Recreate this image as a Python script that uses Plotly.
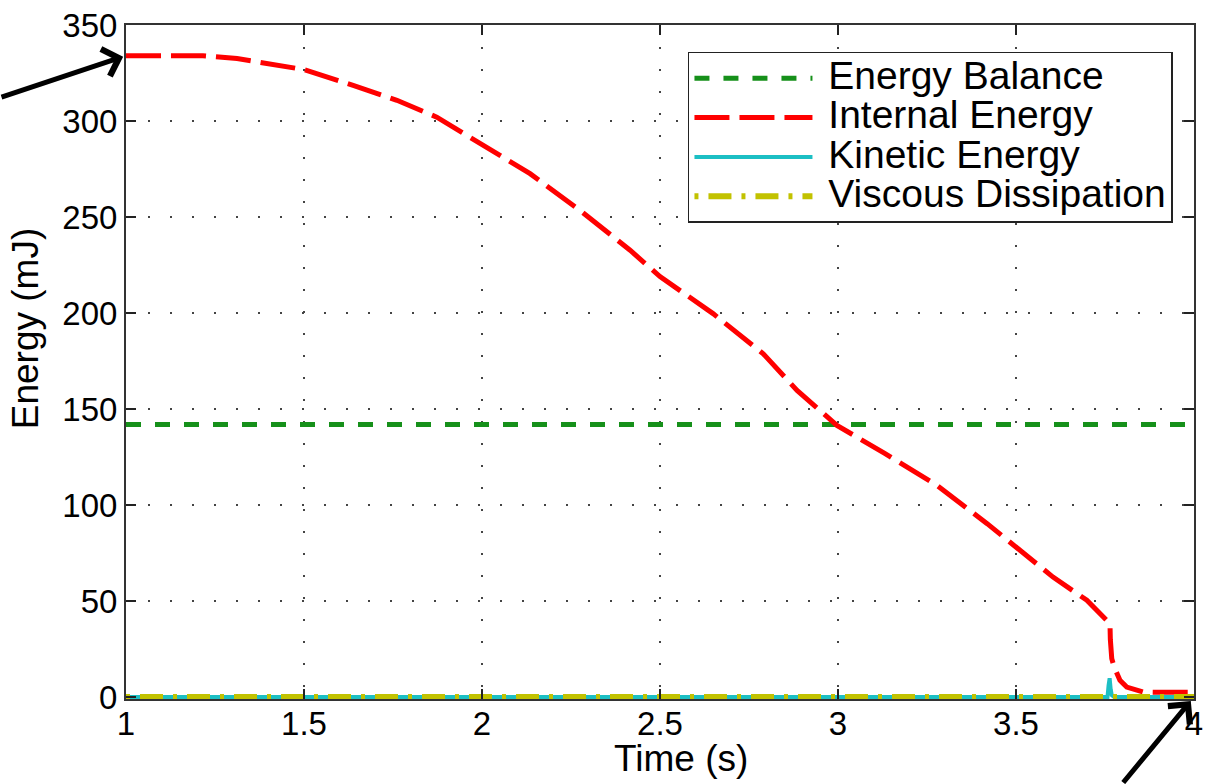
import plotly.graph_objects as go

# ---- data -------------------------------------------------------------
series_names = ["Energy Balance", "Internal Energy", "Kinetic Energy", "Viscous Dissipation"]

balance_t = [1.0, 4.0]
balance_e = [142.0, 142.0]

internal_t = [1.0, 1.1, 1.216, 1.312, 1.405, 1.5, 1.638, 1.761, 1.873, 2.0,
              2.135, 2.275, 2.416, 2.5, 2.649, 2.79, 2.885, 2.949, 2.997, 3.13,
              3.278, 3.419, 3.511, 3.604, 3.699, 3.764, 3.765, 3.769, 3.776, 3.783,
              3.792, 3.811, 3.839, 3.858, 3.9, 4.0]
internal_e = [334.0, 334.0, 334.0, 332.5, 330.0, 326.8, 318.6, 310.8, 302.0, 287.5,
              272.6, 253.5, 232.7, 219.0, 199.7, 178.8, 159.7, 149.3, 141.5, 127.0,
              110.3, 90.3, 76.4, 62.5, 50.4, 38.2, 30.0, 20.0, 15.5, 12.0,
              8.7, 5.2, 3.3, 2.6, 2.5, 2.5]

kinetic_t = [1.0, 3.757, 3.760, 3.763, 3.766, 3.769, 3.776, 4.0]
kinetic_e = [0.0, 0.0, 6.0, 9.8, 4.0, 1.0, 0.0, 0.0]

viscous_t = [1.0, 4.0]
viscous_e = [0.0, 0.0]

x_ticks = [1, 1.5, 2, 2.5, 3, 3.5, 4]
x_tick_text = ["1", "1.5", "2", "2.5", "3", "3.5", "4"]
y_ticks = [0, 50, 100, 150, 200, 250, 300, 350]
y_tick_text = ["0", "50", "100", "150", "200", "250", "300", "350"]

# ---- styling ----------------------------------------------------------
FONT = "Liberation Sans, Arial, Helvetica, sans-serif"
TICK_SIZE = 33
TITLE_SIZE = 37
LEGEND_TEXT = 39
GAP = "\u00a0"  # space between legend sample and label


def legend_label(name):
    return f'<span style="font-size:{LEGEND_TEXT}px">{GAP}{name}</span>'


fig = go.Figure()

fig.add_trace(go.Scatter(
    x=balance_t, y=balance_e, mode="lines", name=legend_label(series_names[0]),
    line=dict(color="#16901a", width=5, dash="15px,14px"),
))
fig.add_trace(go.Scatter(
    x=internal_t, y=internal_e, mode="lines", name=legend_label(series_names[1]),
    line=dict(color="#ff0000", width=5, dash="35px,10px"),
))
fig.add_trace(go.Scatter(
    x=kinetic_t, y=kinetic_e, mode="lines", name=legend_label(series_names[2]),
    line=dict(color="#1cbfc4", width=4),
))
fig.add_trace(go.Scatter(
    x=viscous_t, y=viscous_e, mode="lines", name=legend_label(series_names[3]),
    line=dict(color="#c2c200", width=6, dash="4px,10px,23px,10px"),
))

axis_common = dict(
    showline=True, linecolor="#333333", linewidth=2, mirror="ticks",
    ticks="inside", ticklen=10, tickwidth=2, tickcolor="#222222",
    showgrid=True, gridcolor="#444444", gridwidth=2, griddash="2px,20px",
    zeroline=False, automargin=False,
    tickfont=dict(family=FONT, size=TICK_SIZE, color="black"),
)

fig.update_xaxes(range=[1, 4], tickmode="array", tickvals=x_ticks,
                 ticktext=x_tick_text, ticklabelstandoff=-6, **axis_common)
fig.update_yaxes(range=[-1, 350], tickmode="array", tickvals=y_ticks,
                 ticktext=y_tick_text, **axis_common)

annotations = [
    # axis titles
    dict(text="Time (s)", xref="paper", yref="paper", x=0.5197, y=-0.089,
         xanchor="center", yanchor="middle", showarrow=False,
         font=dict(family=FONT, size=TITLE_SIZE, color="black")),
    dict(text="Energy (mJ)", xref="paper", yref="paper", x=-0.0946, y=0.55,
         xanchor="center", yanchor="middle", textangle=-90, showarrow=False,
         font=dict(family=FONT, size=TITLE_SIZE, color="black")),
    # pointer to the start of the internal energy curve
    dict(text="", x=1, y=334, xref="x", yref="y", ax=-126, ay=42,
         showarrow=True, arrowhead=4, arrowsize=1.1, arrowwidth=5,
         arrowcolor="black", standoff=3),
    # pointer to the end of the run
    dict(text="", x=4, y=0, xref="x", yref="y", ax=-72, ay=90,
         showarrow=True, arrowhead=4, arrowsize=1.1, arrowwidth=5,
         arrowcolor="black", standoff=5),
]

fig.update_layout(
    width=1211, height=784,
    margin=dict(l=126, r=17, t=25, b=85),
    paper_bgcolor="white", plot_bgcolor="white",
    font=dict(family=FONT, color="black"),
    showlegend=True,
    legend=dict(
        x=0.9803, y=0.96, xanchor="right", yanchor="top",
        bgcolor="white", bordercolor="#222222", borderwidth=1.5,
        font=dict(family=FONT, size=28, color="black"),
        itemwidth=118, tracegroupgap=0,
    ),
    annotations=annotations,
)

fig.write_html("out.html")
